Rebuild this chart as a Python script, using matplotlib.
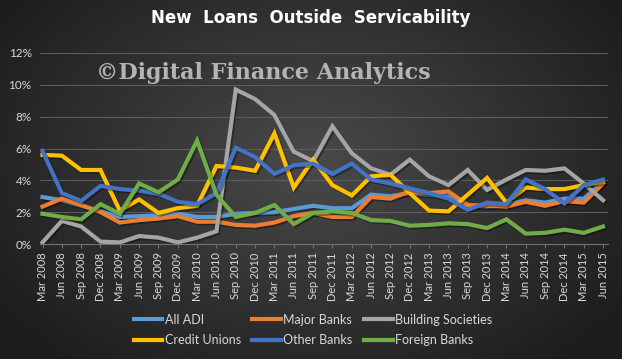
import numpy as np
import matplotlib
matplotlib.use("Agg")
from matplotlib import pyplot as plt
import matplotlib.patheffects as pe

# quarters Mar 2008 .. Jun 2015
months = ["Mar", "Jun", "Sep", "Dec"]
quarters = []
for yr in range(2008, 2016):
	for m in months:
		quarters.append(m + " " + str(yr))
quarters = quarters[:30]

all_adi = [2.95, 2.75, 2.4, 2.05, 1.7, 1.75, 1.8, 1.9, 1.7, 1.7, 1.9, 1.95, 2.0, 2.2, 2.4,
           2.25, 2.25, 3.1, 3.0, 3.2, 3.1, 3.0, 2.4, 2.35, 2.45, 2.75, 2.6, 2.85, 2.85, 3.9]
major_banks = [2.35, 2.85, 2.45, 2.0, 1.35, 1.5, 1.6, 1.75, 1.4, 1.4, 1.2, 1.15, 1.35, 1.75, 1.95,
               1.7, 1.7, 2.95, 2.85, 3.3, 3.2, 3.3, 2.45, 2.4, 2.35, 2.65, 2.4, 2.7, 2.6, 3.8]
building_soc = [0.1, 1.45, 1.1, 0.15, 0.1, 0.5, 0.4, 0.1, 0.4, 0.8, 9.7, 9.1, 8.1, 5.8, 5.2,
                7.4, 5.7, 4.75, 4.35, 5.3, 4.25, 3.7, 4.65, 3.4, 4.05, 4.65, 4.6, 4.75, 3.8, 2.75]
credit_unions = [5.6, 5.55, 4.65, 4.65, 2.1, 2.8, 1.95, 2.25, 2.4, 4.9, 4.8, 4.6, 6.95, 3.55, 5.3,
                 3.7, 3.05, 4.25, 4.35, 3.2, 2.1, 2.05, 3.1, 4.15, 2.6, 3.55, 3.45, 3.45, 3.7, 3.9]
other_banks = [5.85, 3.2, 2.7, 3.65, 3.45, 3.35, 3.15, 2.65, 2.5, 3.2, 6.05, 5.45, 4.4, 4.95, 5.05,
               4.4, 5.05, 4.05, 3.8, 3.5, 3.2, 2.85, 2.15, 2.6, 2.5, 4.05, 3.45, 2.55, 3.7, 4.05]
foreign_banks = [1.9, 1.7, 1.55, 2.5, 1.9, 3.8, 3.25, 4.05, 6.5, 3.1, 1.7, 1.95, 2.45, 1.25, 1.95,
                 2.05, 1.95, 1.5, 1.45, 1.15, 1.2, 1.3, 1.25, 1.0, 1.55, 0.65, 0.7, 0.9, 0.7, 1.1]

names = ["All ADI", "Major Banks", "Building Societies", "Credit Unions", "Other Banks", "Foreign Banks"]
colors = ["#5B9BD5", "#ED7D31", "#A5A5A5", "#FFC000", "#4472C4", "#70AD47"]
series = [all_adi, major_banks, building_soc, credit_unions, other_banks, foreign_banks]

fnt = ["Lato", "DejaVu Sans"]
txtcol = "#d9d9d9"

fig = plt.figure(figsize=(6.22, 3.59), dpi=100)

# dark radial background
bg = fig.add_axes([0, 0, 1, 1], zorder=-10)
gx, gy = np.meshgrid(np.linspace(0, 1, 311), np.linspace(0, 1, 180))
r = np.sqrt(((gx - 0.5) / 0.62) ** 2 + ((gy - 0.45) / 0.75) ** 2)
shade = 0.29 - 0.18 * np.clip(r, 0, 1)
bg.imshow(np.dstack([shade, shade, shade]), aspect="auto", extent=[0, 1, 0, 1], interpolation="bilinear")
bg.axis("off")

ax = fig.add_axes([0.0643, 0.3203, 0.913, 0.5321])
ax.patch.set_alpha(0)
x = np.arange(len(quarters))
for s, c, n in zip(series, colors, names):
	ax.plot(x, s, color=c, linewidth=3, label=n, solid_joinstyle="miter",
	        path_effects=[pe.SimpleLineShadow(offset=(1.2, -1.2), shadow_color="black", alpha=0.35), pe.Normal()])

ax.set_xlim(-0.13, 29.25)
ax.set_ylim(0, 12)
ax.set_yticks(np.arange(0, 13, 2))
ax.set_yticklabels([str(v) + "%" for v in range(0, 13, 2)], family=fnt, fontsize=8.5, color=txtcol)
ax.set_xticks(x)
ax.set_xticklabels(quarters, rotation=90, family=fnt, fontsize=8, color=txtcol)
ax.tick_params(axis="y", length=0, pad=6)
ax.tick_params(axis="x", length=3, color="#707070", pad=3)
ax.grid(axis="y", color="#5c5c5c", linewidth=0.8)
ax.set_axisbelow(True)
for sp in ["top", "right", "left"]:
	ax.spines[sp].set_visible(False)
ax.spines["bottom"].set_color("#707070")

fig.text(0.5, 0.95, "New  Loans  Outside  Servicability", ha="center", va="center",
         fontsize=12, fontweight="bold", color="white", family="DejaVu Sans")
fig.text(0.424, 1 - 73 / 359, "©Digital Finance Analytics", ha="center", va="center",
         fontsize=16, fontweight="bold", color="#b4b4b4", family="DejaVu Serif")

h, l = ax.get_legend_handles_labels()
order = [0, 3, 1, 4, 2, 5]
leg = fig.legend([h[i] for i in order], [l[i] for i in order], loc="center", bbox_to_anchor=(0.503, 0.081),
                 ncol=3, frameon=False, prop={"family": fnt, "size": 9}, handlelength=2.3,
                 handletextpad=0.2, columnspacing=0.9, labelspacing=0.65)
for t in leg.get_texts():
	t.set_color(txtcol)
for ln in leg.get_lines():
	ln.set_path_effects([pe.Normal()])

fig.savefig("out.png", dpi=100)
